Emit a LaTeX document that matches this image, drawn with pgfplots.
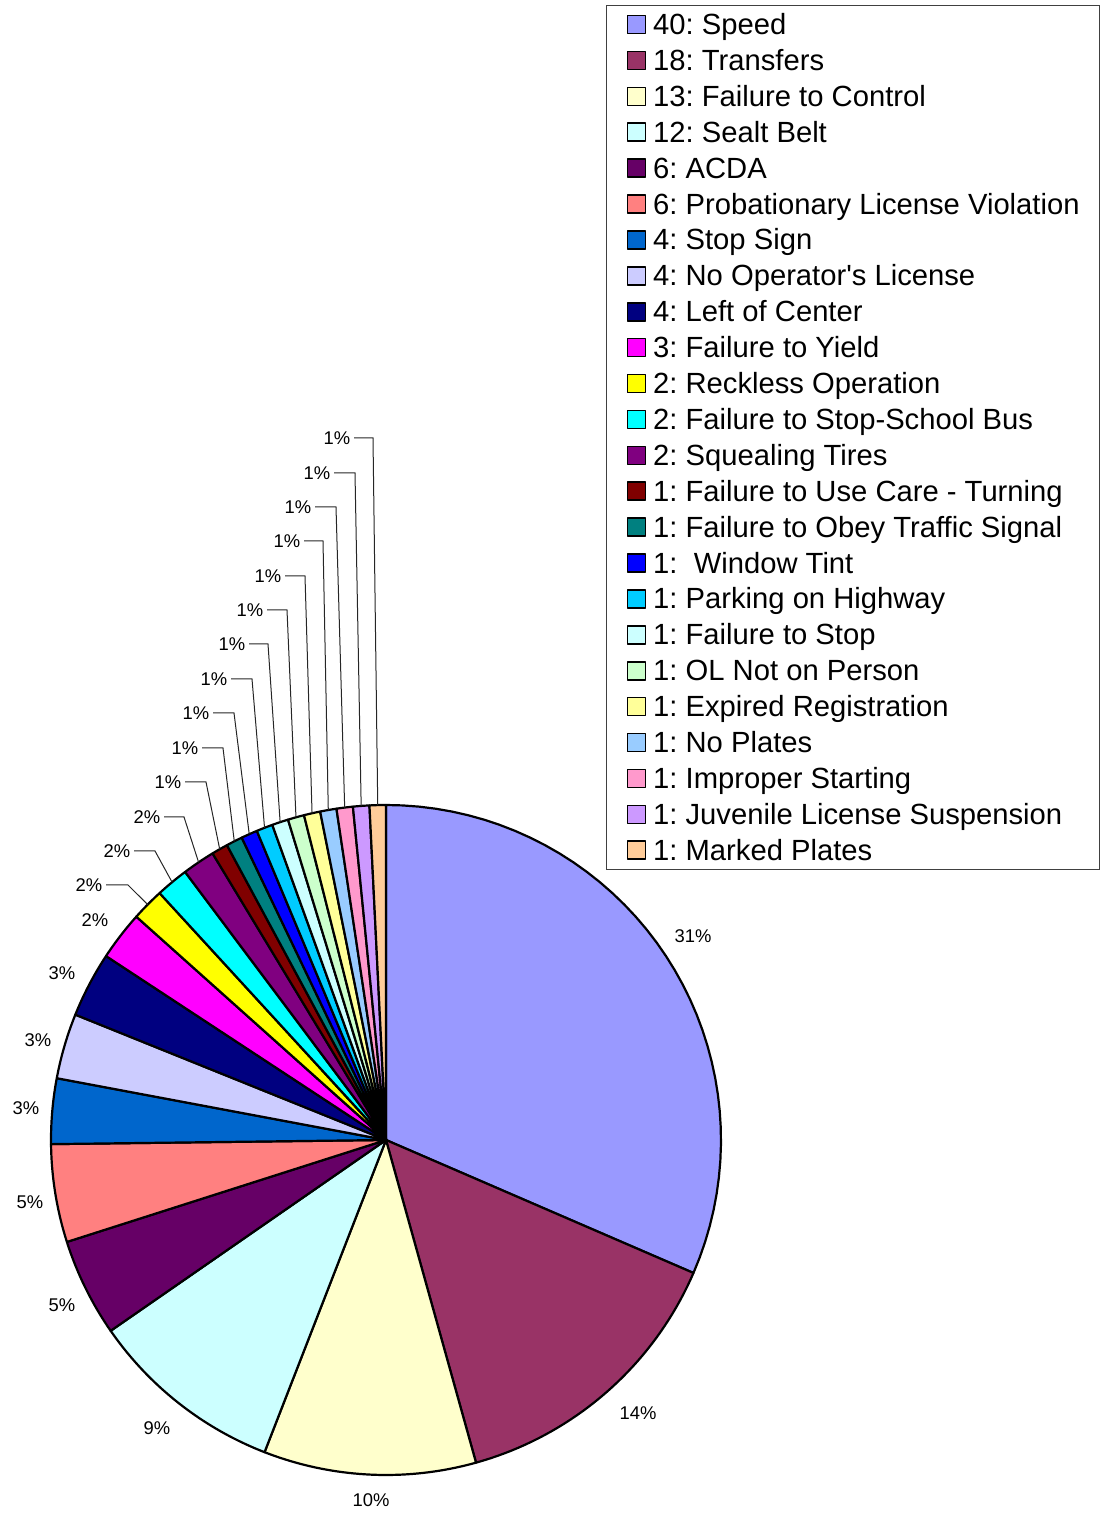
\documentclass[border=0pt]{standalone}
\usepackage{pgfplots}
\pgfplotsset{compat=1.18}
\usepackage{fontspec}
\setmainfont{Liberation Sans}
\frenchspacing
\definecolor{c01}{HTML}{9999FF}
\definecolor{c02}{HTML}{993366}
\definecolor{c03}{HTML}{FFFFCC}
\definecolor{c04}{HTML}{CCFFFF}
\definecolor{c05}{HTML}{660066}
\definecolor{c06}{HTML}{FF8080}
\definecolor{c07}{HTML}{0066CC}
\definecolor{c08}{HTML}{CCCCFF}
\definecolor{c09}{HTML}{000080}
\definecolor{c10}{HTML}{FF00FF}
\definecolor{c11}{HTML}{FFFF00}
\definecolor{c12}{HTML}{00FFFF}
\definecolor{c13}{HTML}{800080}
\definecolor{c14}{HTML}{800000}
\definecolor{c15}{HTML}{008080}
\definecolor{c16}{HTML}{0000FF}
\definecolor{c17}{HTML}{00CCFF}
\definecolor{c18}{HTML}{CCFFFF}
\definecolor{c19}{HTML}{CCFFCC}
\definecolor{c20}{HTML}{FFFF99}
\definecolor{c21}{HTML}{99CCFF}
\definecolor{c22}{HTML}{FF99CC}
\definecolor{c23}{HTML}{CC99FF}
\definecolor{c24}{HTML}{FFCC99}
% total = 127 ; slices given as cumulative start / end counts
\newcommand\slice[4]{%
  \addplot[fill=#3, draw=black, line width=1.1pt, line join=round, domain=90-(#2)*360/127:90-(#1)*360/127,
    samples=41, variable=\t]
    ({386+335*cos(\t)},{375+335*sin(\t)}) -- (axis cs:386,375) -- cycle;
  \addlegendentry{#4}}
\newcommand\pct[3]{\node[font=\fontsize{9.2}{11}\selectfont] at (axis cs:#1,#2) {#3\%};}
\newcommand\lead[5]{%
  \node[font=\fontsize{9.2}{11}\selectfont] at (axis cs:#1,#2) {#3\%};
  \draw[black!85, line width=0.5pt] (axis cs:{#1+17},#2) -- (axis cs:#4,#2) --
    (axis cs:{386+335*cos(90-(#5)*360/127)},{375+335*sin(90-(#5)*360/127)});}
\begin{document}
\begin{tikzpicture}
\begin{axis}[
  scale only axis, width=551.5pt, height=757.5pt,
  xmin=0, xmax=1103, ymin=0, ymax=1515,
  hide axis, clip=false,
  legend image code/.code={\draw[#1, draw=black, line width=0.8pt] (0pt,-4.5pt) rectangle (9pt,4.5pt);},
  legend style={at={(axis cs:606,1510)}, anchor=north west, draw=black!75, line width=0.6pt,
    font=\fontsize{14.6}{17.9}\selectfont, inner xsep=10pt, inner ysep=0.5pt,
    cells={anchor=west}, nodes={inner sep=0pt, text height=13.97pt, text depth=3.98pt},
    row sep=0pt, column sep=3.5pt, legend columns=1},
]
\slice{0}{40}{c01}{40: Speed}
\slice{40}{58}{c02}{18: Transfers}
\slice{58}{71}{c03}{13: Failure to Control}
\slice{71}{83}{c04}{12: Sealt Belt}
\slice{83}{89}{c05}{6: ACDA}
\slice{89}{95}{c06}{6: Probationary License Violation}
\slice{95}{99}{c07}{4: Stop Sign}
\slice{99}{103}{c08}{4: No Operator\textquotesingle s License}
\slice{103}{107}{c09}{4: Left of Center}
\slice{107}{110}{c10}{3: Failure to Yield}
\slice{110}{112}{c11}{2: Reckless Operation}
\slice{112}{114}{c12}{2: Failure to Stop-School Bus}
\slice{114}{116}{c13}{2: Squealing Tires}
\slice{116}{117}{c14}{1: Failure to Use Care - Turning}
\slice{117}{118}{c15}{1: Failure to Obey Traffic Signal}
\slice{118}{119}{c16}{1: \ Window Tint}
\slice{119}{120}{c17}{1: Parking on Highway}
\slice{120}{121}{c18}{1: Failure to Stop}
\slice{121}{122}{c19}{1: OL Not on Person}
\slice{122}{123}{c20}{1: Expired Registration}
\slice{123}{124}{c21}{1: No Plates}
\slice{124}{125}{c22}{1: Improper Starting}
\slice{125}{126}{c23}{1: Juvenile License Suspension}
\slice{126}{127}{c24}{1: Marked Plates}
\pct{693}{579}{31}
\pct{638}{102}{14}
\pct{371}{15}{10}
\pct{157}{87}{9}
\pct{62}{210}{5}
\pct{30}{313}{5}
\pct{26}{407}{3}
\pct{38}{475}{3}
\pct{62}{542}{3}
\pct{95}{595}{2}
\lead{89}{630}{2}{128}{111}
\lead{117}{664}{2}{155}{113}
\lead{147}{698}{2}{184}{115}
\lead{168}{733}{1}{206}{116.5}
\lead{185}{767}{1}{223}{117.5}
\lead{196}{802}{1}{234}{118.5}
\lead{214}{836}{1}{252}{119.5}
\lead{232}{871}{1}{268}{120.5}
\lead{250}{905}{1}{287}{121.5}
\lead{268}{939}{1}{305}{122.5}
\lead{287}{974}{1}{323}{123.5}
\lead{298}{1008}{1}{336}{124.5}
\lead{317}{1042}{1}{355}{125.5}
\lead{337}{1077}{1}{373}{126.5}
\end{axis}
\pgfresetboundingbox
\path (current axis.south west) rectangle (current axis.north east);
\end{tikzpicture}
\end{document}
